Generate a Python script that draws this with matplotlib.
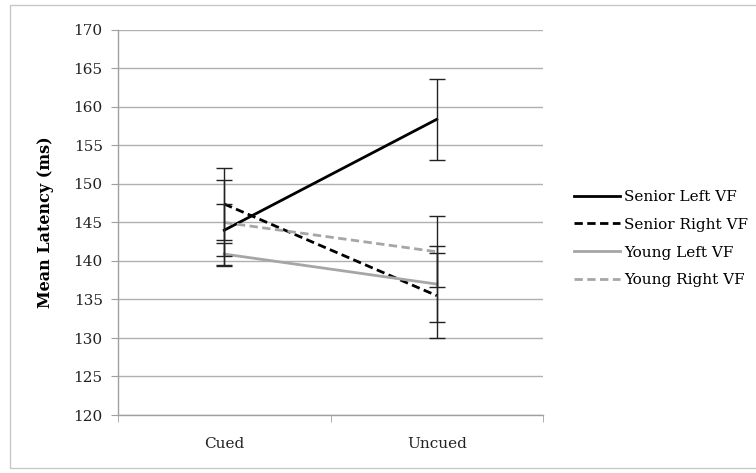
import matplotlib
matplotlib.use("Agg")
import matplotlib.pyplot as plt
from matplotlib.patches import Rectangle

# data
conditions = ["Cued", "Uncued"]
series_names = ["Senior Left VF", "Senior Right VF", "Young Left VF", "Young Right VF"]
senior_left = [144.0, 158.4]
senior_right = [147.4, 135.5]
young_left = [140.9, 137.0]
young_right = [145.0, 141.2]
senior_left_err = [3.4, 5.25]
senior_right_err = [4.7, 5.5]
young_left_err = [1.5, 4.9]
young_right_err = [5.5, 4.6]
yticks = [120, 125, 130, 135, 140, 145, 150, 155, 160, 165, 170]

plt.rcParams['font.family'] = ['DejaVu Serif']

fig = plt.figure(figsize=(7.56, 4.73), dpi=100)
ax = fig.add_axes([118/756, 1 - 415/473, (543 - 118)/756, (415 - 30)/473])

# outer chart frame
fig.patches.append(Rectangle((10/756, 5/473), 760/756, 463/473, transform=fig.transFigure,
                             fill=False, edgecolor="#c8c8c8", linewidth=1))

x = [0, 1]
styles = [
    (senior_left, senior_left_err, "black", "-"),
    (senior_right, senior_right_err, "black", (0, (3, 1.6))),
    (young_left, young_left_err, "#a6a6a6", "-"),
    (young_right, young_right_err, "#a6a6a6", (0, (3, 1.6))),
]
for (vals, err, col, ls), name in zip(styles, series_names):
    ax.plot(x, vals, color=col, linestyle=ls, linewidth=2, label=name, zorder=3)
for vals, err, col, ls in styles:
    ax.errorbar(x, vals, yerr=err, fmt="none", ecolor="#222222", elinewidth=1,
                capsize=5.5, capthick=1, zorder=4)

ax.set_xlim(-0.5, 1.5)
ax.set_ylim(120, 170)
ax.set_yticks(yticks)
ax.set_xticks(x)
ax.set_xticklabels(conditions)
ax.set_xticks([-0.5, 0.5, 1.5], minor=True)
ax.tick_params(axis="x", which="major", length=0, pad=16, labelsize=11, colors="#222222")
ax.tick_params(axis="x", which="minor", length=5, color="#a0a0a0", direction="out")
ax.tick_params(axis="y", length=5, color="#a0a0a0", labelsize=11, labelcolor="#222222", pad=6)
ax.yaxis.grid(True, color="#b0b0b0", linewidth=1)
ax.set_axisbelow(True)
for s in ["top", "right"]:
    ax.spines[s].set_visible(False)
for s in ["left", "bottom"]:
    ax.spines[s].set_color("#a0a0a0")
    ax.spines[s].set_linewidth(1)

ax.set_ylabel("Mean Latency (ms)", fontsize=11.5, fontweight="bold", labelpad=14)

ax.legend(loc="center left", bbox_to_anchor=(1.058, 0.458), frameon=False, fontsize=11,
          handlelength=3.0, handletextpad=0.3, labelspacing=0.9, borderaxespad=0)

fig.savefig("out.png", dpi=100)
